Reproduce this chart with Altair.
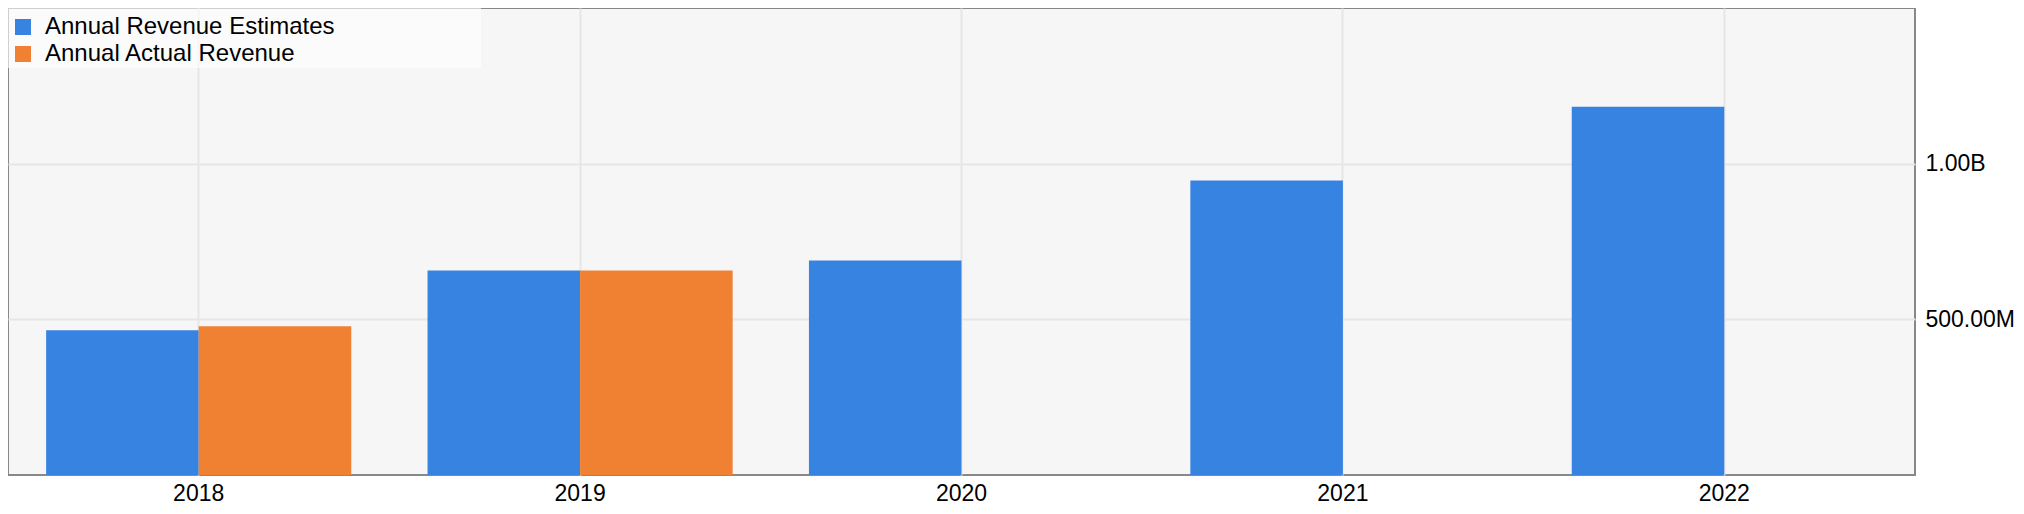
import altair as alt
import pandas as pd

years = ["2018", "2019", "2020", "2021", "2022"]
estimates = [465e6, 657e6, 689e6, 946e6, 1183e6]
actuals = [478e6, 657e6, None, None, None]
series = ["Annual Revenue Estimates", "Annual Actual Revenue"]
colors = ["#3783E2", "#F08132"]

rows = []
for y, e, a in zip(years, estimates, actuals):
    if e is not None:
        rows.append({"year": y, "series": series[0], "value": e})
    if a is not None:
        rows.append({"year": y, "series": series[1], "value": a})
df = pd.DataFrame(rows)

FONT = "Liberation Sans"

bars = alt.Chart(df).mark_bar(strokeWidth=0).encode(
    x=alt.X(
        "year:N",
        sort=years,
        scale=alt.Scale(paddingInner=0.2, paddingOuter=0.1),
        axis=alt.Axis(
            title=None, labelAngle=0, labelFontSize=23, labelFont=FONT,
            labelColor="#000000", labelPadding=7, ticks=False, tickSize=0,
            domain=False, grid=True, gridColor="#E6E6E6", gridWidth=2,
            bandPosition=0.5,
        ),
    ),
    xOffset=alt.XOffset(
        "series:N", sort=series,
        scale=alt.Scale(domain=series, paddingInner=0, paddingOuter=0),
    ),
    y=alt.Y(
        "value:Q",
        scale=alt.Scale(domain=[0, 1.5e9], nice=False, zero=True),
        axis=alt.Axis(
            title=None, orient="right", values=[5e8, 1e9],
            labelExpr="datum.value >= 1e9 ? format(datum.value/1e9, '.2f') + 'B' : format(datum.value/1e6, '.2f') + 'M'",
            labelFontSize=23, labelFont=FONT, labelColor="#000000",
            labelPadding=10, ticks=False, tickSize=0, domain=False,
            grid=True, gridColor="#E6E6E6", gridWidth=2,
        ),
    ),
    color=alt.Color(
        "series:N",
        scale=alt.Scale(domain=series, range=colors),
        legend=alt.Legend(
            title=None, orient="none", legendX=3, legendY=7, padding=0,
            symbolType="square", symbolSize=256, symbolStrokeWidth=0,
            labelFontSize=24, labelFont=FONT, labelColor="#000000",
            labelOffset=10, rowPadding=3, labelLimit=600,
        ),
    ),
)

legend_box = alt.Chart(pd.DataFrame({"k": [0]})).mark_rect(
    fill="#FFFFFF", fillOpacity=0.6, strokeWidth=0
).encode(
    x=alt.value(0), x2=alt.value(473), y=alt.value(0), y2=alt.value(60)
)

chart = alt.layer(bars, legend_box).properties(
    width=1907, height=467, padding=0, background="#FFFFFF"
).configure_view(
    stroke="#888888", strokeWidth=2, fill="#F6F6F6"
)

chart.save("out.html", embed_options={"renderer": "svg", "actions": False})
